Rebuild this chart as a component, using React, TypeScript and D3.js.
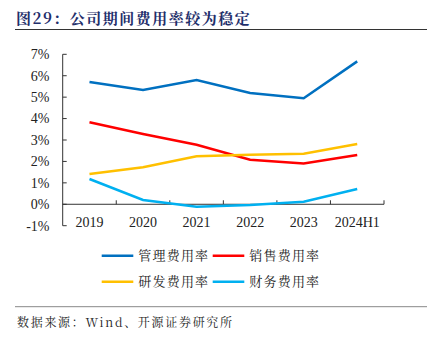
import React from "react";
import * as d3 from "d3";

const categories = ["2019", "2020", "2021", "2022", "2023", "2024H1"];
const seriesNames = ["管理费用率", "销售费用率", "研发费用率", "财务费用率"];
const mgmt = [5.71, 5.33, 5.8, 5.19, 4.95, 6.67];
const sales = [3.83, 3.28, 2.78, 2.08, 1.9, 2.3];
const rnd = [1.41, 1.73, 2.24, 2.31, 2.36, 2.81];
const fin = [1.18, 0.2, -0.11, -0.03, 0.12, 0.71];
const yTicks = [-1, 0, 1, 2, 3, 4, 5, 6, 7];
const colors = ["#0070C0", "#FF0000", "#FFC000", "#00B0F0"];
const title = "图29：公司期间费用率较为稳定";
const source = "数据来源：Wind、开源证券研究所";

const series = [mgmt, sales, rnd, fin];

export default function App() {
  const W = 443, H = 341;
  const x = d3.scaleBand<string>().domain(categories).range([62.7, 384]);
  const y = d3.scaleLinear().domain([-1, 7]).range([225.7, 54.3]);
  const line = d3
    .line<number>()
    .x((_, i) => (x(categories[i]) as number) + x.bandwidth() / 2)
    .y((d) => y(d));
  const serif = "'Liberation Serif', 'Times New Roman', serif";
  const cjk = "'Noto Serif CJK SC', 'Noto Sans CJK SC', serif";
  const legendPos = [
    [101.7, 255.7],
    [212.7, 255.7],
    [101.7, 281.7],
    [212.7, 281.7],
  ];
  return (
    <svg width={W} height={H} style={{ position: "absolute", left: 0, top: 0 }}>
      <rect width={W} height={H} fill="#fff" />
      <text x={16} y={24} fontSize={15} fontWeight="bold" fill="#1F2F6B" fontFamily={cjk} letterSpacing={1.5}>
        {title}
      </text>
      <line x1={15} x2={427} y1={29.5} y2={29.5} stroke="#333" strokeWidth={1.2} />
      {/* y axis */}
      <line x1={62.7} x2={62.7} y1={y(7)} y2={y(-1)} stroke="#333" strokeWidth={1} />
      {yTicks.map((t) => (
        <g key={t}>
          <line x1={62.7} x2={66.7} y1={y(t)} y2={y(t)} stroke="#333" />
          <text x={49.5} y={y(t)} dy="0.35em" textAnchor="end" fontSize={14} fontFamily={serif} fill="#222">
            {t}%
          </text>
        </g>
      ))}
      {/* x axis */}
      <line x1={62.7} x2={384} y1={y(0)} y2={y(0)} stroke="#333" strokeWidth={1} />
      {categories.map((c, i) => (
        <g key={c}>
          <line x1={(x(c) as number) + x.bandwidth()} x2={(x(c) as number) + x.bandwidth()} y1={y(0)} y2={y(0) - 4} stroke="#333" />
          <text x={(x(c) as number) + x.bandwidth() / 2} y={222} dy="0.35em" textAnchor="middle" fontSize={14} fontFamily={serif} fill="#222">
            {c}
          </text>
        </g>
      ))}
      {series.map((s, i) => (
        <path key={i} d={line(s) || ""} fill="none" stroke={colors[i]} strokeWidth={2.5} />
      ))}
      {seriesNames.map((n, i) => (
        <g key={n}>
          <line x1={legendPos[i][0]} x2={legendPos[i][0] + 31.6} y1={legendPos[i][1]} y2={legendPos[i][1]} stroke={colors[i]} strokeWidth={2.5} />
          <text x={legendPos[i][0] + 36.6} y={legendPos[i][1]} dy="0.35em" fontSize={13} fontFamily={cjk} fill="#222" letterSpacing={1.2}>
            {n}
          </text>
        </g>
      ))}
      <line x1={15} x2={427} y1={306.7} y2={306.7} stroke="#888" strokeWidth={1} />
      <text x={17} y={322.7} dy="0.35em" fontSize={12} fontFamily={cjk} fill="#222" letterSpacing={1.7}>
        {source}
      </text>
    </svg>
  );
}
